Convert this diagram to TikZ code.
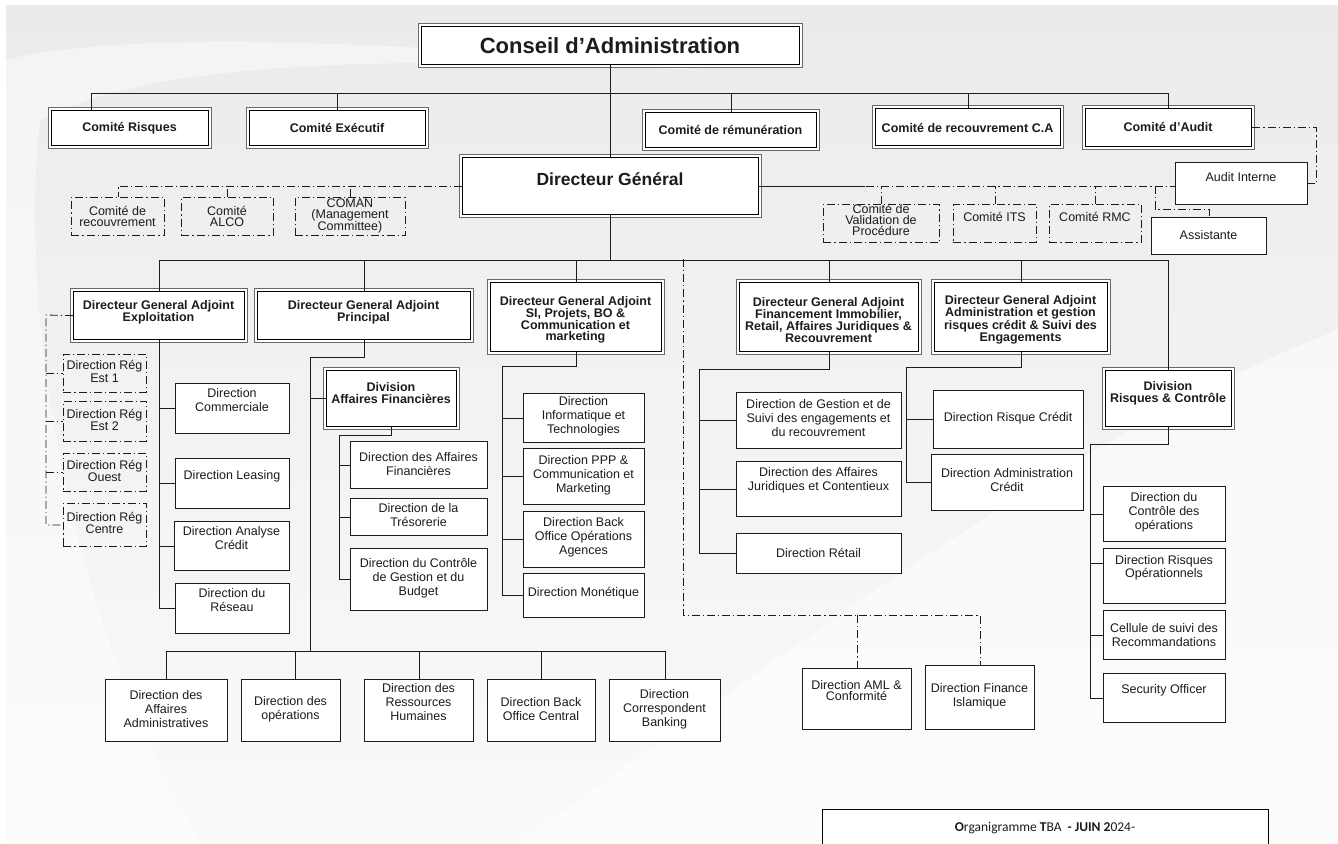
\documentclass[tikz,border=0pt]{standalone}
\usepackage{fontspec}
\setmainfont{Liberation Sans}
\newfontfamily\footfont{Carlito}
\usetikzlibrary{calc}
\definecolor{bgtop}{RGB}{235,235,235}
\definecolor{bgbot}{RGB}{250,250,250}
\definecolor{ink}{RGB}{28,28,28}
\definecolor{framec}{RGB}{105,105,105}
\tikzset{
  obx/.style={draw=ink, line width=0.9pt, fill=white, inner sep=0pt},
  odbx/.style={draw=ink, line width=0.8pt, inner sep=0pt, dash pattern=on 8pt off 3pt on 1.2pt off 3pt},
  dblin/.style={draw=black, line width=1.3pt, fill=white, inner sep=0pt},
  dblout/.style={draw=framec, line width=0.8pt, fill=white},
  conn/.style={draw=ink, line width=0.9pt},
  ddl/.style={draw=ink, line width=0.8pt, dash pattern=on 8pt off 3pt on 1.2pt off 3pt},
  txt/.style={align=center, text=ink, inner sep=0pt, font=\fontsize{12.5}{14}\selectfont},
  txts/.style={align=center, text=ink, inner sep=0pt, font=\fontsize{12.5}{11}\selectfont},
  ttl/.style={align=center, text=ink, inner sep=0pt, font=\bfseries\fontsize{12.5}{11.8}\selectfont},
  bigt/.style={align=center, text=ink, inner sep=0pt, font=\bfseries\fontsize{22}{24}\selectfont},
  dgt/.style={align=center, text=ink, inner sep=0pt, font=\bfseries\fontsize{17.5}{20}\selectfont},
  foott/.style={align=center, text=ink, inner sep=0pt, font=\footfont\fontsize{13.5}{15}\selectfont},
}
% #1 box style, #2 name, #3 x1, #4 y1, #5 x2, #6 y2, #7 text y, #8 text style, #9 text
\newcommand\orgbox[9][obx]{%
  \node[#1, anchor=north west, minimum width={(#5)-(#3)}, minimum height={(#6)-(#4)}] (#2) at (#3,#4) {};%
  \node[#8] (#2-t) at ({((#3)+(#5))/2},#7) {#9};}
% #1 name, #2 x1, #3 y1, #4 x2, #5 y2 (outer), #6 text y, #7 text style, #8 text
\newcommand\orgdbl[8]{%
  \draw[dblout] (#2,#3) rectangle (#4,#5);%
  \node[dblin, anchor=north west, minimum width={(#4)-(#2)-6}, minimum height={(#5)-(#3)-6}] (#1) at ({(#2)+3},{(#3)+3}) {};%
  \node[#7] (#1-t) at ({((#2)+(#4))/2},#6) {#8};}
\begin{document}
\begin{tikzpicture}[x=1pt,y=-1pt]
\useasboundingbox (0,0) rectangle (1338,843);
\fill[white] (0,0) rectangle (1338,843);
\shade[top color=bgtop, bottom color=bgbot] (6,6) rectangle (1338,843);
% soft background swooshes
\fill[white, opacity=0.55] (520,843) .. controls (800,640) and (1100,420) .. (1338,330) -- (1338,843) -- cycle;
\fill[white, opacity=0.45] (6,60) .. controls (120,30) and (400,40) .. (700,70) .. controls (400,55) and (150,60) .. (40,120) .. controls (20,300) and (60,600) .. (200,843) -- (6,843) -- cycle;

% ---------- top level ----------
\orgdbl{conseil}{418}{23}{802}{67}{46}{bigt}{Conseil d’Administration}
\orgdbl{crisques}{48}{107}{211}{148}{128}{ttl}{Comité Risques}
\orgdbl{cexec}{246}{107}{428}{148}{128}{ttl}{Comité Exécutif}
\orgdbl{cremun}{642}{109}{819}{150}{130}{ttl}{Comité de rémunération}
\orgdbl{crecca}{872}{105}{1063}{148}{128}{ttl}{Comité de recouvrement C.A}
\orgdbl{caudit}{1082}{105}{1254}{149}{127}{ttl}{Comité d’Audit}
\orgdbl{dg}{459}{154}{761}{217}{179}{dgt}{Directeur Général}

\orgbox{audint}{1175}{162}{1307}{204}{177}{txt}{Audit Interne}
\orgbox{assist}{1151}{217}{1266}{254}{235}{txt}{Assistante}

\orgbox[odbx]{ccrec}{71}{197}{164}{235}{216}{txts}{Comité de\\recouvrement}
\orgbox[odbx]{calco}{181}{197}{273}{235}{216}{txts}{Comité\\ALCO}
\orgbox[odbx]{ccoman}{295}{197}{405}{235}{216}{txts}{COMAN\\(Management\\Committee)}
\orgbox[odbx]{cval}{823}{204}{939}{242}{220}{txts}{Comité de\\Validation de\\Procédure}
\orgbox[odbx]{cits}{953}{204}{1036}{242}{217}{txts}{Comité ITS}
\orgbox[odbx]{crmc}{1049}{204}{1141}{242}{217}{txts}{Comité RMC}

% ---------- DGA level ----------
\orgdbl{dgaexp}{70}{288}{247}{342}{312}{ttl}{Directeur General Adjoint\\Exploitation}
\orgdbl{dgaprin}{254}{288}{473}{342}{312}{ttl}{Directeur General Adjoint\\Principal}
\orgdbl{dgasi}{487}{279}{664}{354}{320}{ttl}{Directeur General Adjoint\\SI, Projets, BO \&\\Communication et\\marketing}
\orgdbl{dgafin}{736}{279}{921}{354}{320}{ttl}{Directeur General Adjoint\\Financement Immobilier,\\Retail, Affaires Juridiques \&\\Recouvrement}
\orgdbl{dgaadm}{931}{279}{1110}{354}{320}{ttl}{Directeur General Adjoint\\Administration et gestion\\risques crédit \& Suivi des\\Engagements}
\orgdbl{divaf}{323}{367}{459}{429}{393}{ttl}{Division\\Affaires Financières}
\orgdbl{divrc}{1102}{367}{1234}{429}{393}{ttl}{Division\\Risques \& Contrôle}

% ---------- Exploitation ----------
\orgbox[odbx]{reg1}{63}{354}{146}{392}{371.5}{txts}{Direction Rég\\Est 1}
\orgbox[odbx]{reg2}{63}{401}{146}{441}{420}{txts}{Direction Rég\\Est 2}
\orgbox[odbx]{reg3}{63}{453}{146}{491}{471}{txts}{Direction Rég\\Ouest}
\orgbox[odbx]{reg4}{63}{503}{146}{546}{523}{txts}{Direction Rég\\Centre}
\orgbox{dcom}{175}{383}{289}{433}{400}{txt}{Direction\\Commerciale}
\orgbox{dleas}{175}{458}{289}{508}{476}{txt}{Direction Leasing}
\orgbox{danal}{174}{521}{289}{570}{538}{txt}{Direction Analyse\\Crédit}
\orgbox{dres}{175}{583}{289}{633}{600}{txt}{Direction du\\Réseau}

% ---------- Affaires financieres ----------
\orgbox{daf}{350}{441}{487}{488}{464.5}{txt}{Direction des Affaires\\Financières}
\orgbox{dtres}{350}{498}{487}{535}{515.5}{txt}{Direction de la\\Trésorerie}
\orgbox{dcg}{350}{548}{487}{610}{578}{txt}{Direction du Contrôle\\de Gestion et du\\Budget}

% ---------- SI ----------
\orgbox{dinfo}{523}{393}{644}{442}{416.5}{txt}{Direction\\Informatique et\\Technologies}
\orgbox{dppp}{523}{448}{644}{504}{475.5}{txt}{Direction PPP \&\\Communication et\\Marketing}
\orgbox{dbo}{523}{511}{644}{567}{537.5}{txt}{Direction Back\\Office Opérations\\Agences}
\orgbox{dmon}{523}{573}{644}{617}{593}{txt}{Direction Monétique}

% ---------- Financement ----------
\orgbox{dgest}{736}{392}{901}{448}{418.5}{txt}{Direction de Gestion et de\\Suivi des engagements et\\du recouvrement}
\orgbox{djur}{736}{461}{901}{516}{480}{txt}{Direction des Affaires\\Juridiques et Contentieux}
\orgbox{dret}{736}{533}{901}{573}{553}{txt}{Direction Rétail}

% ---------- Administration ----------
\orgbox{drc}{933}{390}{1083}{448}{418}{txt}{Direction Risque Crédit}
\orgbox{dac}{931}{454}{1083}{510}{480.5}{txt}{Direction Administration\\Crédit}

% ---------- Risques & Controle ----------
\orgbox{dcop}{1103}{486}{1225}{541}{512.5}{txt}{Direction du\\Contrôle des\\opérations}
\orgbox{drop}{1103}{548}{1225}{603}{568}{txts}{Direction Risques\\Opérationnels}
\orgbox{dcell}{1103}{610}{1225}{659}{635.5}{txt}{Cellule de suivi des\\Recommandations}
\orgbox{dsec}{1103}{673}{1225}{722}{690}{txt}{Security Officer}

% ---------- AML / Finance islamique ----------
\orgbox{aml}{802}{668}{911}{729}{691}{txts}{Direction AML \&\\Conformité}
\orgbox{dfi}{925}{665}{1034}{729}{696.5}{txt}{Direction Finance\\Islamique}

% ---------- bottom row ----------
\orgbox{bdaa}{105}{679}{227}{741}{709}{txt}{Direction des\\Affaires\\Administratives}
\orgbox{bdop}{241}{679}{340}{741}{709.5}{txt}{Direction des\\opérations}
\orgbox{bdrh}{364}{679}{473}{741}{702}{txt}{Direction des\\Ressources\\Humaines}
\orgbox{bdbo}{487}{679}{595}{741}{709.5}{txt}{Direction Back\\Office Central}
\orgbox{bdcb}{609}{679}{720}{741}{709}{txt}{Direction\\Correspondent\\Banking}

% ---------- footer ----------
\node[draw=black, line width=1.4pt, fill=white, inner sep=0pt, anchor=north west,
      minimum width=446, minimum height=40] (foot) at (822,809) {};
\node[foott] (foot-t) at (1045,828) {\textbf{O}rganigramme \textbf{T}BA\ \ \textbf{- JUIN 2}024-};

% ================= connectors =================
% Conseil
\draw[conn] (conseil.south) -- (dg.north);
\draw[conn] (conseil.south) -- ++(0,28) -| ([xshift=-38.5pt]crisques.north);
\draw[conn] (conseil.south) -- ++(0,28) -| (cexec.north);
\draw[conn] (conseil.south) -- ++(0,28) -| (cremun.north);
\draw[conn] (conseil.south) -- ++(0,28) -| (crecca.north);
\draw[conn] (conseil.south) -- ++(0,28) -| (caudit.north);

% DG side committees
\draw[ddl] (dg.west) -| (ccrec.north);
\draw[ddl] (calco.north) -- (calco.north |- dg.west);
\draw[ddl] (ccoman.north) -- (ccoman.north |- dg.west);
\draw[ddl] (dg.east) -- (dg.east -| audint.west);
\draw[conn] (dg.east) -- ++(106,0);
\draw[ddl] (cval.north) -- (cval.north |- dg.east);
\draw[ddl] (cits.north) -- (cits.north |- dg.east);
\draw[ddl] (crmc.north) -- (crmc.north |- dg.east);
\coordinate (asA) at (1155,209);
\draw[ddl] (asA |- dg.east) -- (asA) -| (assist.north);
\draw[ddl] (caudit.east) -- ++(64,0) |- (audint.east);

% DG to DGA
\draw[conn] (dg.south) -- ++(0,45) -| (dgaexp.north);
\draw[conn] (dg.south) -- ++(0,45) -| (dgaprin.north);
\draw[conn] (dg.south) -- ++(0,45) -| (dgasi.north);
\draw[conn] (dg.south) -- ++(0,45) -| (dgafin.north);
\draw[conn] (dg.south) -- ++(0,45) -| (dgaadm.north);
\draw[conn] (dg.south) -- ++(0,45) -| (divrc.north);

% Exploitation
\draw[conn] (dgaexp.south) |- (dcom.west);
\draw[conn] (dgaexp.south) |- (dleas.west);
\draw[conn] (dgaexp.south) |- (danal.west);
\draw[conn] (dgaexp.south) |- (dres.west);
\coordinate (rb) at (46,315);
\draw[ddl] (dgaexp.west) -- (rb) |- (reg4.west);
\draw[ddl] (rb |- reg1.west) -- (reg1.west);
\draw[ddl] (rb |- reg2.west) -- (reg2.west);
\draw[ddl] (rb |- reg3.west) -- (reg3.west);

% Principal
\coordinate (pj) at (310,357);
\coordinate (pb) at (310,651);
\draw[conn] (dgaprin.south) |- (pj) |- (divaf.west);
\draw[conn] (pj) -- (pb);
\draw[conn] (pb) -| (bdaa.north);
\draw[conn] (pb) -| ([xshift=4.5pt]bdop.north);
\draw[conn] (pb) -| (bdrh.north);
\draw[conn] (pb) -| (bdbo.north);
\draw[conn] (pb) -| (bdcb.north);

% Affaires financieres
\coordinate (afj) at (339,435);
\draw[conn] (divaf.south) |- (afj) |- (dcg.west);
\draw[conn] (afj) |- (daf.west);
\draw[conn] (afj) |- (dtres.west);

% SI
\coordinate (sij) at (502,366);
\draw[conn] (dgasi.south) |- (sij) |- (dmon.west);
\draw[conn] (sij) |- (dinfo.west);
\draw[conn] (sij) |- (dppp.west);
\draw[conn] (sij) |- (dbo.west);

% Financement
\coordinate (fij) at (699,369);
\draw[conn] (dgafin.south) |- (fij) |- (dret.west);
\draw[conn] (fij) |- (dgest.west);
\draw[conn] (fij) |- (djur.west);

% Administration
\coordinate (adj) at (906,367);
\draw[conn] (dgaadm.south) |- (adj) |- (dac.west);
\draw[conn] (adj) |- (drc.west);

% Risques & Controle
\coordinate (rcj) at (1090,444);
\draw[conn] (divrc.south) |- (rcj) |- (dsec.west);
\draw[conn] (rcj) |- (dcop.west);
\draw[conn] (rcj) |- ([yshift=13pt]drop.west);
\draw[conn] (rcj) |- (dcell.west);

% AML / Finance islamique
\coordinate (ddt) at (683,259);
\coordinate (ddj) at (683,615);
\draw[ddl] (ddt) -- (ddj) -| (dfi.north);
\draw[ddl] (ddj -| aml.north) -- (aml.north);
\end{tikzpicture}
\end{document}
